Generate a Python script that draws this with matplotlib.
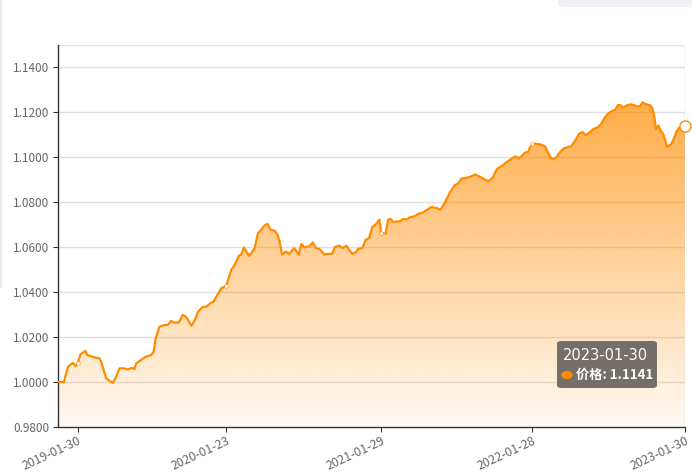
import matplotlib.pyplot as plt
import matplotlib.dates as mdates
import numpy as np
import pandas as pd
from matplotlib.patches import FancyBboxPatch

plt.rcParams['font.family'] = ['Noto Sans CJK SC', 'DejaVu Sans']

# net value curve
dates = [
    '2018-12-14', '2018-12-28', '2019-01-07', '2019-01-19', '2019-01-25', '2019-01-30',
    '2019-02-06', '2019-02-18', '2019-02-22', '2019-03-08', '2019-03-24', '2019-03-28',
    '2019-04-09', '2019-04-17', '2019-04-25', '2019-05-01', '2019-05-11', '2019-05-23',
    '2019-05-31', '2019-06-08', '2019-06-16', '2019-06-20', '2019-07-04', '2019-07-12',
    '2019-07-26', '2019-08-01', '2019-08-06', '2019-08-15', '2019-08-27', '2019-09-04',
    '2019-09-12', '2019-09-20', '2019-10-01', '2019-10-10', '2019-10-19', '2019-10-31',
    '2019-11-08', '2019-11-16', '2019-11-26', '2019-12-06', '2019-12-18', '2019-12-23',
    '2019-12-30', '2020-01-11', '2020-01-23', '2020-01-29', '2020-02-04', '2020-02-12',
    '2020-02-22', '2020-02-28', '2020-03-05', '2020-03-11', '2020-03-17', '2020-03-23',
    '2020-03-31', '2020-04-08', '2020-04-16', '2020-04-24', '2020-05-01', '2020-05-08',
    '2020-05-18', '2020-05-25', '2020-05-30', '2020-06-05', '2020-06-14', '2020-06-22',
    '2020-07-04', '2020-07-15', '2020-07-21', '2020-07-29', '2020-08-10', '2020-08-18',
    '2020-08-25', '2020-09-03', '2020-09-15', '2020-09-23', '2020-10-03', '2020-10-10',
    '2020-10-20', '2020-10-28', '2020-11-07', '2020-11-13', '2020-11-21', '2020-11-29',
    '2020-12-05', '2020-12-15', '2020-12-23', '2020-12-31', '2021-01-08', '2021-01-18',
    '2021-01-25', '2021-01-27', '2021-01-29', '2021-02-09', '2021-02-15', '2021-02-21',
    '2021-02-27', '2021-03-07', '2021-03-15', '2021-03-23', '2021-03-31', '2021-04-08',
    '2021-04-20', '2021-04-28', '2021-05-10', '2021-05-14', '2021-05-30', '2021-06-11',
    '2021-06-21', '2021-07-01', '2021-07-13', '2021-07-25', '2021-08-02', '2021-08-11',
    '2021-08-23', '2021-08-31', '2021-09-12', '2021-09-24', '2021-10-06', '2021-10-15',
    '2021-10-24', '2021-11-04', '2021-11-15', '2021-11-27', '2021-12-09', '2021-12-19',
    '2021-12-26', '2022-01-02', '2022-01-10', '2022-01-18', '2022-01-23', '2022-01-28',
    '2022-02-03', '2022-02-15', '2022-02-27', '2022-03-05', '2022-03-13', '2022-03-19',
    '2022-03-27', '2022-04-04', '2022-04-14', '2022-04-24', '2022-05-02', '2022-05-10',
    '2022-05-21', '2022-05-29', '2022-06-06', '2022-06-15', '2022-06-23', '2022-07-05',
    '2022-07-13', '2022-07-21', '2022-07-29', '2022-08-07', '2022-08-15', '2022-08-22',
    '2022-08-28', '2022-09-03', '2022-09-13', '2022-09-21', '2022-09-30', '2022-10-07',
    '2022-10-14', '2022-10-20', '2022-10-28', '2022-11-07', '2022-11-13', '2022-11-17',
    '2022-11-21', '2022-11-27', '2022-12-02', '2022-12-09', '2022-12-18', '2022-12-27',
    '2023-01-02', '2023-01-10', '2023-01-16', '2023-01-22', '2023-01-30',
]
prices = [
    1.0000, 1.0000, 1.0068, 1.0086, 1.0071, 1.0083,
    1.0123, 1.0139, 1.0120, 1.0112, 1.0105, 1.0090,
    1.0016, 1.0005, 0.9996, 1.0016, 1.0061, 1.0061,
    1.0056, 1.0063, 1.0058, 1.0083, 1.0101, 1.0112,
    1.0120, 1.0135, 1.0195, 1.0246, 1.0254, 1.0254,
    1.0272, 1.0264, 1.0266, 1.0299, 1.0288, 1.0250,
    1.0276, 1.0313, 1.0333, 1.0336, 1.0354, 1.0358,
    1.0380, 1.0418, 1.0429, 1.0467, 1.0500, 1.0522,
    1.0562, 1.0567, 1.0599, 1.0581, 1.0562, 1.0574,
    1.0596, 1.0663, 1.0678, 1.0697, 1.0704, 1.0678,
    1.0674, 1.0656, 1.0626, 1.0567, 1.0581, 1.0571,
    1.0596, 1.0567, 1.0614, 1.0599, 1.0605, 1.0621,
    1.0596, 1.0592, 1.0567, 1.0571, 1.0570, 1.0601,
    1.0607, 1.0596, 1.0607, 1.0589, 1.0571, 1.0577,
    1.0593, 1.0596, 1.0633, 1.0641, 1.0690, 1.0705,
    1.0723, 1.0696, 1.0663, 1.0660, 1.0723, 1.0726,
    1.0712, 1.0715, 1.0715, 1.0726, 1.0723, 1.0733,
    1.0738, 1.0748, 1.0755, 1.0760, 1.0779, 1.0775,
    1.0767, 1.0797, 1.0842, 1.0876, 1.0884, 1.0906,
    1.0909, 1.0913, 1.0924, 1.0913, 1.0901, 1.0894,
    1.0909, 1.0949, 1.0961, 1.0979, 1.0994, 1.1005,
    1.0995, 1.1005, 1.1021, 1.1025, 1.1047, 1.1058,
    1.1061, 1.1058, 1.1050, 1.1028, 1.0998, 1.0991,
    1.1001, 1.1023, 1.1040, 1.1046, 1.1050, 1.1072,
    1.1107, 1.1112, 1.1098, 1.1112, 1.1125, 1.1135,
    1.1151, 1.1177, 1.1195, 1.1206, 1.1211, 1.1233,
    1.1232, 1.1221, 1.1232, 1.1236, 1.1232, 1.1226,
    1.1229, 1.1244, 1.1236, 1.1232, 1.1217, 1.1184,
    1.1125, 1.1142, 1.1121, 1.1102, 1.1047, 1.1058,
    1.1077, 1.1117, 1.1132, 1.1125, 1.1141,
]
tick_dates = ['2019-01-30', '2020-01-23', '2021-01-29', '2022-01-28', '2023-01-30']
y_ticks = [0.98, 1.00, 1.02, 1.04, 1.06, 1.08, 1.10, 1.12, 1.14]
y_min, y_max = 0.98, 1.15

tip_date = '2023-01-30'
tip_label = '价格'
tip_value = 1.1141

xn = mdates.date2num(pd.to_datetime(dates))
tick_x = mdates.date2num(pd.to_datetime(tick_dates))

fig = plt.figure(figsize=(6.92, 4.72), dpi=100)
ax = fig.add_axes([58 / 692, 1 - 427 / 472, 627 / 692, 382 / 472])

# gridlines (under the translucent area)
for v in y_ticks[1:] + [y_max]:
    ax.axhline(v, color='#e0e0e0', lw=1, zorder=0)

# gradient area under the line
poly = ax.fill_between(xn, prices, y_min, color='none', lw=0)
grad = np.zeros((256, 1, 4))
grad[:, 0, 0] = 1.0
grad[:, 0, 1] = 140 / 255
grad[:, 0, 2] = 0.0
grad[:, 0, 3] = np.linspace(0.72, 0.05, 256)
img = ax.imshow(grad, extent=[xn[0], xn[-1], y_min, max(prices)],
                aspect='auto', origin='upper', zorder=1, interpolation='bilinear')
img.set_clip_path(poly.get_paths()[0], transform=ax.transData)

# axis pointer
ax.axvline(xn[-1], color='#cccccc', lw=1, zorder=2)

ax.plot(xn, prices, color='#ff8c00', lw=1.6, zorder=3, solid_joinstyle='round')

# symbols at labelled dates
idx = [dates.index(d) for d in tick_dates[:-1]]
ax.plot(xn[idx], [prices[i] for i in idx], 'o', ms=2.6, mfc='white',
        mec='#ff8c00', mew=0.4, zorder=4)
ax.plot(xn[-1], prices[-1], 'o', ms=8, mfc='white', mec='#ff8c00', mew=1.0,
        zorder=5, clip_on=False)

ax.set_xlim(xn[0], xn[-1])
ax.set_ylim(y_min, y_max)
ax.set_yticks(y_ticks)
ax.set_yticklabels(['%.4f' % v for v in y_ticks], fontsize=8.5)
ax.set_xticks(tick_x)
ax.set_xticklabels(tick_dates, rotation=25, ha='right', rotation_mode='anchor',
                   fontsize=8.8)

for s in ['top', 'right']:
    ax.spines[s].set_visible(False)
for s in ['left', 'bottom']:
    ax.spines[s].set_color('#333333')
    ax.spines[s].set_linewidth(1)
ax.tick_params(axis='both', colors='#333333', length=3.6, width=0.8,
               labelcolor='#666666', pad=2.5)
ax.tick_params(axis='x', pad=1.5)

# page bits around the chart
fig.patches.append(plt.Rectangle((0, 1 - 288 / 472), 2 / 692, 288 / 472,
                                 transform=fig.transFigure, color='#ececec', lw=0))
fig.patches.append(FancyBboxPatch((558 / 692, 1 - 7 / 472), 140 / 692, 20 / 472,
                                  boxstyle='round,pad=0,rounding_size=0.008',
                                  transform=fig.transFigure, color='#f0f0f5', lw=0))

# tooltip
fig.patches.append(FancyBboxPatch((557 / 692, 1 - 388 / 472), 100 / 692, 47 / 472,
                                  boxstyle='round,pad=0,rounding_size=0.006',
                                  transform=fig.transFigure, fc='#6e6864',
                                  ec='none', alpha=0.95, zorder=10))
fig.text(563 / 692, 1 - 355 / 472, tip_date, color='white', fontsize=10.5,
         family='DejaVu Sans', va='center', ha='left', zorder=11)
fig.patches.append(plt.Circle((567 / 692, 1 - 375 / 472), 5 / 692,
                              transform=fig.transFigure, color='#ff8c00', zorder=11))
fig.text(576 / 692, 1 - 375 / 472, '%s: %.4f' % (tip_label, tip_value),
         color='white', fontsize=9.5, fontweight='bold', va='center', ha='left', zorder=11)

fig.savefig('out.png', dpi=100)
